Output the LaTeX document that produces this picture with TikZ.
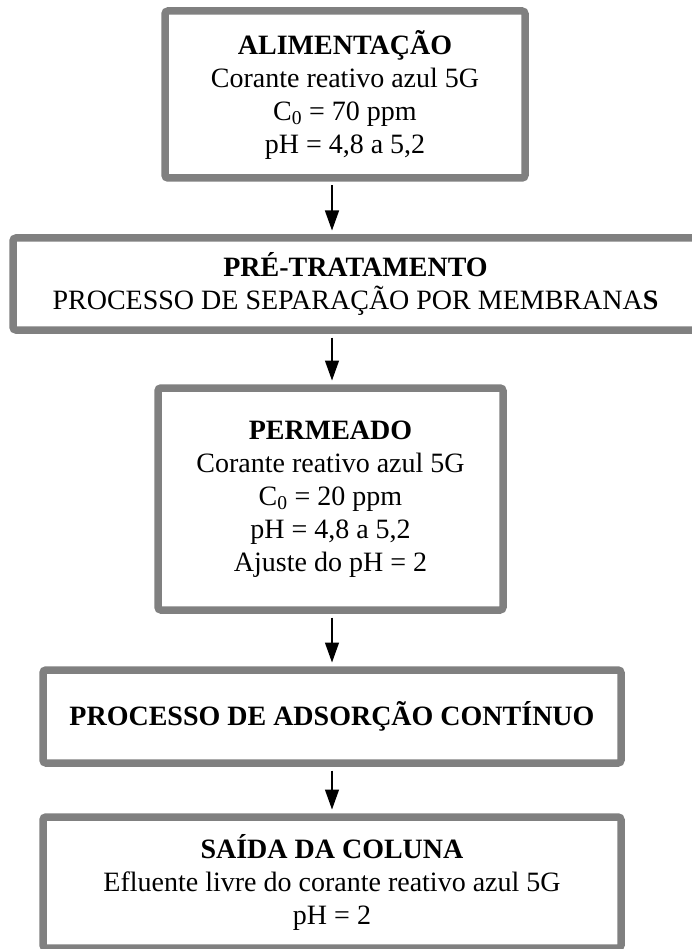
\documentclass[tikz,border=0pt]{standalone}
\usepackage{fontspec}
\setmainfont{Liberation Serif}
\usetikzlibrary{arrows.meta}
\definecolor{boxgray}{RGB}{128,128,128}
\begin{document}
\begin{tikzpicture}[x=1pt,y=-1pt,
  stagebox/.style={draw=boxgray, line width=7.5pt, rounded corners=3pt,
    fill=white, inner sep=0pt, align=center,
    font=\fontsize{28}{33}\selectfont},
  flow/.style={line width=1.3pt, -{Triangle[width=14pt,length=20pt]},
    shorten <=3.75pt, shorten >=3.75pt}]
  \useasboundingbox (0,0) rectangle (691,949);

  % vertical line along which the flow arrows run
  \coordinate (axis) at (332,0);

  \node[stagebox, minimum width=360pt, minimum height=167pt] (alim) at (345,94.5)
    {\textbf{ALIMENTAÇÃO}\\Corante reativo azul 5G\\C\textsubscript{0} = 70 ppm\\pH = 4,8 a 5,2};

  \node[stagebox, minimum width=685pt, minimum height=92pt] (pre) at (355.5,284)
    {\textbf{PRÉ-TRATAMENTO}\\PROCESSO DE SEPARAÇÃO POR MEMBRANA\textbf{S}};

  \node[stagebox, minimum width=345pt, minimum height=222pt] (perm) at (330.5,499)
    {\textbf{PERMEADO}\\Corante reativo azul 5G\\C\textsubscript{0} = 20 ppm\\pH = 4,8 a 5,2\\Ajuste do pH = 2};

  \node[stagebox, minimum width=578pt, minimum height=93pt] (ads) at (332,716.5)
    {\textbf{PROCESSO DE ADSORÇÃO CONTÍNUO}};

  \node[stagebox, minimum width=578pt, minimum height=131pt] (saida) at (332,882.5)
    {\textbf{SAÍDA DA COLUNA}\\Efluente livre do corante reativo azul 5G\\pH = 2};

  \draw[flow] (alim.south -| axis) -- (pre.north -| axis);
  \draw[flow] (pre.south -| axis) -- (perm.north -| axis);
  \draw[flow] (perm.south -| axis) -- (ads.north -| axis);
  \draw[flow] (ads.south -| axis) -- (saida.north -| axis);
\end{tikzpicture}
\end{document}
